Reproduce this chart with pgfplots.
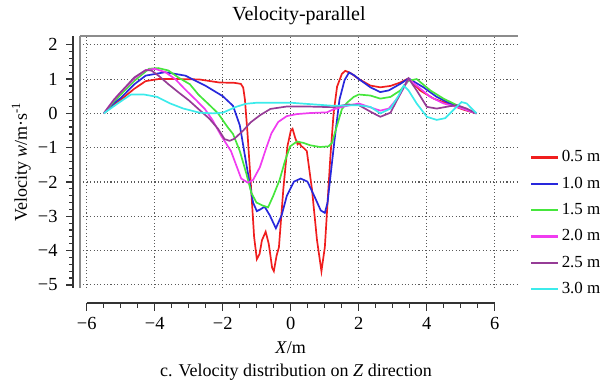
\documentclass[border=0pt]{standalone}
\usepackage{fontspec}
\setmainfont{Liberation Serif}
\usepackage{pgfplots}
\pgfplotsset{compat=1.18}
\definecolor{cRed}{RGB}{240,30,30}
\definecolor{cBlue}{RGB}{40,40,220}
\definecolor{cGreen}{RGB}{70,230,60}
\definecolor{cMag}{RGB}{240,60,240}
\definecolor{cPur}{RGB}{150,60,150}
\definecolor{cCyan}{RGB}{60,235,235}
\begin{document}
\begin{tikzpicture}
\path (-52pt,-63pt) rectangle (347.75pt,187.2pt);
\begin{axis}[at={(0,0)}, anchor=south west, scale only axis,
  width=284.7pt, height=163.9pt,
  xmin=-6.2, xmax=6.68, ymin=-5.09, ymax=2.26,
  axis x line*=top, axis y line*=left,
  xtick={-6,-4,...,6}, ytick={-5,-4,...,2},
  xticklabels={}, yticklabels={}, major tick length=0pt,
  grid=major,
  grid style={color=black!65, line width=0.7pt, dash pattern=on 0.7pt off 1.5pt},
  axis line style={color=black!45, line width=1.2pt},
  title={Velocity-parallel},
  title style={at={(0.5,1)}, anchor=center, yshift=7pt, font=\fontsize{13}{15}\selectfont},
  legend style={draw=none, fill=none, at={(axis description cs:1.027,0.558)}, anchor=north west,
    row sep=4.3pt, inner xsep=0pt, inner ysep=0pt, font=\fontsize{11}{13}\selectfont},
  legend cell align=left,
  legend image post style={line width=1.5pt},
  every axis plot/.append style={line width=1.1pt},
]
\addplot[cRed] coordinates {
(-5.5,0) (-5.2,0.25) (-5.0,0.4) (-4.6,0.72) (-4.27,0.94) (-3.9,1.0) (-3.3,1.0) (-2.7,0.99)
(-2.1,0.9) (-1.66,0.89) (-1.47,0.86) (-1.4,0.75) (-1.35,0.4) (-1.28,-0.5) (-1.18,-2.0)
(-1.08,-3.6) (-1.0,-4.25) (-0.92,-4.1) (-0.85,-3.7) (-0.74,-3.45) (-0.65,-3.8) (-0.55,-4.5)
(-0.5,-4.6) (-0.42,-4.15) (-0.35,-3.9) (-0.22,-2.2) (-0.1,-0.96) (0.0,-0.5) (0.05,-0.45)
(0.13,-0.72) (0.2,-0.9) (0.25,-0.85) (0.3,-0.95) (0.37,-1.0) (0.47,-1.1) (0.62,-2.2)
(0.77,-3.7) (0.9,-4.6) (1.0,-3.9) (1.08,-2.6) (1.16,-1.3) (1.26,0.03) (1.36,0.78) (1.5,1.15)
(1.6,1.24) (1.75,1.18) (2.0,1.0) (2.34,0.81) (2.63,0.76) (2.93,0.8) (3.22,0.9) (3.46,1.02)
(3.8,0.67) (4.2,0.43) (4.6,0.29) (5.07,0.11) (5.46,0)
};
\addlegendentry{0.5 m}
\addplot[cBlue] coordinates {
(-5.5,0) (-5.2,0.3) (-5.0,0.45) (-4.6,0.85) (-4.27,1.1) (-3.7,1.2) (-3.1,1.1) (-2.5,0.8)
(-2.0,0.5) (-1.7,0.22) (-1.5,-0.35) (-1.31,-1.47) (-1.11,-2.6) (-1.0,-2.85) (-0.9,-2.8)
(-0.77,-2.72) (-0.62,-2.97) (-0.44,-3.35) (-0.27,-2.97) (-0.12,-2.41) (0.09,-1.99) (0.29,-1.9)
(0.49,-1.99) (0.69,-2.41) (0.88,-2.83) (1.0,-2.9) (1.08,-2.6) (1.18,-1.7) (1.28,-0.82)
(1.43,0.4) (1.58,0.97) (1.71,1.19) (1.85,1.12) (2.0,1.0) (2.34,0.76) (2.63,0.62) (2.88,0.67)
(3.22,0.86) (3.46,1.02) (3.9,0.76) (4.29,0.48) (4.68,0.29) (5.07,0.14) (5.46,0)
};
\addlegendentry{1.0 m}
\addplot[cGreen] coordinates {
(-5.5,0) (-5.2,0.35) (-5.0,0.55) (-4.6,0.95) (-4.17,1.3) (-3.9,1.32) (-3.6,1.25) (-3.3,1.04)
(-2.97,0.85) (-2.72,0.55) (-2.4,0.25) (-2.14,0.0) (-1.86,-0.4) (-1.7,-0.6) (-1.5,-1.1)
(-1.31,-1.75) (-1.16,-2.32) (-1.01,-2.6) (-0.82,-2.69) (-0.67,-2.74) (-0.52,-2.41)
(-0.33,-1.94) (-0.17,-1.38) (-0.02,-0.96) (0.18,-0.82) (0.37,-0.86) (0.57,-0.93) (0.86,-0.98)
(1.11,-0.96) (1.21,-0.86) (1.36,-0.35) (1.5,0.12) (1.65,0.31) (1.85,0.48) (2.0,0.55)
(2.34,0.52) (2.63,0.43) (2.93,0.48) (3.22,0.67) (3.46,0.95) (3.7,1.0) (4.1,0.67) (4.49,0.43)
(4.88,0.24) (5.46,0)
};
\addlegendentry{1.5 m}
\addplot[cMag] coordinates {
(-5.5,0) (-5.2,0.4) (-5.0,0.62) (-4.6,1.02) (-4.27,1.26) (-4.0,1.3) (-3.69,1.2) (-3.4,1.0)
(-3.11,0.7) (-2.8,0.4) (-2.53,0.13) (-2.3,-0.2) (-2.05,-0.65) (-1.76,-1.1) (-1.46,-1.9)
(-1.26,-2.02) (-1.11,-1.94) (-0.91,-1.57) (-0.72,-1.0) (-0.57,-0.58) (-0.37,-0.25)
(-0.12,-0.08) (0.18,-0.02) (0.57,0.01) (1.06,0.03) (1.26,0.12) (1.56,0.2) (2.0,0.29)
(2.29,0.19) (2.63,0.08) (2.88,0.14) (3.17,0.48) (3.46,1.0) (3.7,0.81) (4.1,0.48) (4.49,0.29)
(4.88,0.19) (5.46,0)
};
\addlegendentry{2.0 m}
\addplot[cPur] coordinates {
(-5.5,0) (-5.2,0.4) (-5.0,0.62) (-4.6,1.05) (-4.27,1.26) (-4.1,1.25) (-3.88,1.09) (-3.6,0.85)
(-3.3,0.61) (-3.0,0.38) (-2.72,0.13) (-2.4,-0.15) (-2.14,-0.45) (-1.95,-0.75) (-1.8,-0.8)
(-1.66,-0.74) (-1.4,-0.5) (-1.18,-0.26) (-0.9,-0.05) (-0.6,0.13) (-0.12,0.2) (0.5,0.2)
(1.26,0.18) (1.66,0.26) (2.0,0.24) (2.34,0.05) (2.63,-0.1) (2.93,0.02) (3.17,0.48) (3.46,1.02)
(3.7,0.67) (4.0,0.19) (4.29,0.14) (4.68,0.21) (4.88,0.24) (5.17,0.14) (5.46,0)
};
\addlegendentry{2.5 m}
\addplot[cCyan] coordinates {
(-5.5,0) (-5.09,0.29) (-4.7,0.55) (-4.32,0.55) (-3.93,0.48) (-3.55,0.29) (-3.16,0.14)
(-2.68,0.02) (-2.29,0.0) (-2.0,0.02) (-1.61,0.19) (-1.32,0.28) (-1.0,0.31) (0.0,0.31)
(1.26,0.22) (1.95,0.24) (2.34,0.19) (2.63,0.0) (2.93,0.14) (3.17,0.52) (3.32,0.81) (3.46,0.67)
(3.7,0.29) (4.0,-0.1) (4.29,-0.19) (4.54,-0.14) (4.78,0.1) (5.02,0.33) (5.17,0.29) (5.32,0.14)
(5.46,0)
};
\addlegendentry{3.0 m}
\end{axis}
\begin{axis}[at={(-4.55pt,0)}, anchor=south west, scale only axis,
  width=284.7pt, height=163.9pt,
  xmin=-6.2, xmax=6.68, ymin=-5.09, ymax=2.26,
  axis y line*=left, axis x line=none,
  ytick={-5,-4,...,2}, yticklabels={−5,−4,−3,−2,−1,0,1,2},
  minor y tick num=4, tick align=outside,
  major tick length=4.5pt, minor tick length=2.5pt,
  axis line style={black!80, line width=0.9pt},
  tick style={black!80, line width=0.8pt},
  yticklabel style={font=\fontsize{12}{14}\selectfont, xshift=-2pt},
  ylabel={Velocity \textit{w}/m·s\textsuperscript{-1}},
  ylabel style={at={(axis description cs:-0.118,0.5)}, anchor=center, font=\fontsize{11.7}{14}\selectfont},
]
\end{axis}
\begin{axis}[at={(4.35pt,-9.75pt)}, anchor=south west, scale only axis,
  width=265.2pt, height=5pt,
  xmin=-6, xmax=6, ymin=0, ymax=1,
  axis x line*=bottom, axis y line=none,
  xtick={-6,-4,...,6}, xticklabels={−6,−4,−2,0,2,4,6},
  minor x tick num=3, tick align=outside,
  major tick length=5pt, minor tick length=3pt,
  axis line style={black!80, line width=0.9pt},
  tick style={black!80, line width=0.8pt},
  xticklabel style={yshift=-0.5pt, font=\fontsize{12}{14}\selectfont},
  xlabel={\textit{X}/m},
  xlabel style={at={(axis description cs:0.5,0)}, anchor=center, yshift=-29.25pt, font=\fontsize{11.7}{14}\selectfont},
]
\end{axis}
\node[font=\fontsize{11.7}{14}\selectfont] at (140.4pt,-54.6pt) {c. Velocity distribution on \textit{Z} direction};
\end{tikzpicture}
\end{document}
